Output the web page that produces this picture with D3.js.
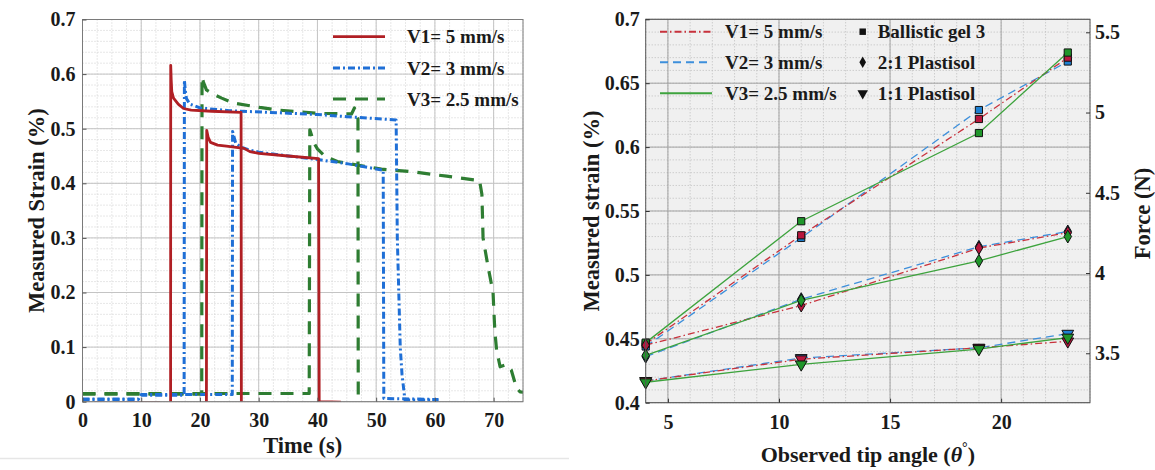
<!DOCTYPE html>
<html><head><meta charset="utf-8">
<script src="https://cdn.jsdelivr.net/npm/d3@7"></script>
<style>
body{margin:0;background:#fff}
text{font-family:"Liberation Serif","DejaVu Serif",serif;font-weight:bold;fill:#1a1a1a}
</style>
</head><body><svg id="c" width="1155" height="470"></svg>
<script>
// ---------- LEFT CHART DATA: time (s), measured strain (%) ----------
const leftXTicks = [0,10,20,30,40,50,60,70];
const leftYTicks = [0,0.1,0.2,0.3,0.4,0.5,0.6,0.7];
const leftYTickLabels = ["0","0.1","0.2","0.3","0.4","0.5","0.6","0.7"];
const leftLegend = ["V1= 5 mm/s","V2= 3 mm/s","V3= 2.5 mm/s"];

const v1Run1 = [[2,-0.002],[5,-0.003],[8,-0.002],[13.2,-0.002]];
const v1Run2 = [[15,0],[15.02,0.616],[15.1,0.59],[15.2,0.568],[15.5,0.556],[16.3,0.545],[17.2,0.537],[18.5,0.534],[22,0.532],[27,0.530],[27.05,0]];
const v1Run3 = [[21.1,0],[21.15,0.497],[21.4,0.484],[21.8,0.475],[23,0.470],[24.5,0.468],[27.5,0.464],[28.5,0.458],[30,0.455],[35,0.450],[40.2,0.445],[40.3,0],[44,-0.001]];

const v2Run1 = [[0,0.004],[9.5,0.004],[10,0.012],[17.3,0.012],[17.35,0.589],[17.5,0.57],[17.7,0.555],[18.3,0.545],[20,0.538],[25,0.533],[33.6,0.529],[40,0.526],[45,0.522],[53.4,0.516],[53.6,0.30],[54.1,0.10],[54.4,0.05],[54.9,0.003],[60.6,0.003]];
const v2Run2 = [[0,0.005],[9.5,0.005],[10,0.013],[25.5,0.013],[25.55,0.495],[25.8,0.485],[26.1,0.473],[27,0.466],[28.5,0.461],[30,0.457],[33.6,0.452],[40.4,0.443],[45,0.436],[51.2,0.424],[51.3,0.006],[60.6,0.004]];

const v3Run1 = [[0,0.014],[20.3,0.014],[20.35,0.595],[20.6,0.585],[21.1,0.571],[22.5,0.562],[23.7,0.556],[25.7,0.547],[30.2,0.539],[33.5,0.534],[40.4,0.528],[45.8,0.527],[46.3,0.538],[46.6,0.525],[46.9,0.518],[46.95,0]];
const v3Run2 = [[0,0.015],[38.6,0.015],[38.7,0.498],[39.0,0.488],[39.3,0.476],[40,0.463],[41.3,0.449],[43.4,0.440],[47,0.433],[50.9,0.426],[56.3,0.421],[62,0.413],[67.6,0.405],[68.0,0.38],[68.2,0.30],[69.0,0.25],[69.9,0.20],[70.2,0.13],[70.5,0.095],[71.1,0.064],[72.2,0.068],[73.0,0.058],[73.9,0.025],[74.5,0.018],[76,0.017]];

// ---------- RIGHT CHART DATA: tip angle (deg), measured strain (%) ----------
const angles = [4, 11, 19, 23];
const rightXTicks = [5,10,15,20];
const rightYTicks = [0.4,0.45,0.5,0.55,0.6,0.65,0.7];
const rightYTickLabels = ["0.4","0.45","0.5","0.55","0.6","0.65","0.7"];
const forceTicks = [3.5,4,4.5,5,5.5];
const forceTickLabels = ["3.5","4","4.5","5","5.5"];
const materials = ["Ballistic gel 3","2:1 Plastisol","1:1 Plastisol"];

const ballisticV1 = [0.446,0.531,0.622,0.670];
const ballisticV2 = [0.444,0.529,0.629,0.667];
const ballisticV3 = [0.447,0.542,0.611,0.674];
const plast21V1 = [0.445,0.476,0.521,0.533];
const plast21V2 = [0.436,0.481,0.522,0.534];
const plast21V3 = [0.437,0.480,0.511,0.530];
const plast11V1 = [0.417,0.434,0.443,0.448];
const plast11V2 = [0.417,0.435,0.443,0.454];
const plast11V3 = [0.416,0.430,0.442,0.451];

// ---------- DRAW ----------
const FF = '"Liberation Serif","DejaVu Serif",serif';
const svg = d3.select("#c");
svg.append("rect").attr("width",1155).attr("height",470).attr("fill","#fff");
const FONT = 20, TITLE = 22.5, LEG = 19;

svg.append("line").attr("x1",0).attr("x2",569).attr("y1",458.5).attr("y2",458.5).attr("stroke","#e6e6e6").attr("stroke-width",1.5);

// ===== LEFT =====
const L = {l:82.5,r:523,t:19.5,b:401.7};
const x1 = d3.scaleLinear([0,75],[L.l,L.r]);
const y1 = d3.scaleLinear([0,0.7],[L.b,L.t]);
const gL = svg.append("g");
gL.append("clipPath").attr("id","clipL").append("rect").attr("x",L.l).attr("y",L.t).attr("width",L.r-L.l).attr("height",L.b-L.t);

gL.selectAll(".mx").data(d3.range(0,75.01,2.5)).join("line")
  .attr("x1",d=>x1(d)).attr("x2",d=>x1(d)).attr("y1",L.t).attr("y2",L.b)
  .attr("stroke","#cfcfcf").attr("stroke-dasharray","1,2").attr("stroke-width",1);
gL.selectAll(".my").data(d3.range(0,0.7001,0.02)).join("line")
  .attr("y1",d=>y1(d)).attr("y2",d=>y1(d)).attr("x1",L.l).attr("x2",L.r)
  .attr("stroke","#cfcfcf").attr("stroke-dasharray","1,2").attr("stroke-width",1);
gL.selectAll(".Mx").data(leftXTicks).join("line")
  .attr("x1",d=>x1(d)).attr("x2",d=>x1(d)).attr("y1",L.t).attr("y2",L.b)
  .attr("stroke","#c4c4c4").attr("stroke-width",1);
gL.selectAll(".My").data(leftYTicks).join("line")
  .attr("y1",d=>y1(d)).attr("y2",d=>y1(d)).attr("x1",L.l).attr("x2",L.r)
  .attr("stroke","#c4c4c4").attr("stroke-width",1);

const lineL = d3.line().x(d=>x1(d[0])).y(d=>y1(d[1]));
const leftStyles = [
  {c:"#b01f24", w:2.8, dash:null},
  {c:"#1f6fd6", w:3, dash:"7,3,2,3"},
  {c:"#2e7d32", w:3.2, dash:"13,9"}
];
const leftRuns = [[v1Run1,0],[v1Run2,0],[v1Run3,0],[v2Run1,1],[v2Run2,1],[v3Run1,2],[v3Run2,2]];
const dataL = gL.append("g").attr("clip-path","url(#clipL)");
[2,1,0].forEach(si=>{
  leftRuns.filter(r=>r[1]===si).forEach(r=>{
    dataL.append("path").attr("d",lineL(r[0])).attr("fill","none")
      .attr("stroke",leftStyles[si].c).attr("stroke-width",leftStyles[si].w)
      .attr("stroke-dasharray",leftStyles[si].dash).attr("stroke-linejoin","round");
  });
});

gL.append("rect").attr("x",L.l).attr("y",L.t).attr("width",L.r-L.l).attr("height",L.b-L.t)
  .attr("fill","none").attr("stroke","#7a7a7a").attr("stroke-width",1);

const axL_b = gL.append("g").attr("transform",`translate(0,${L.b})`)
  .call(d3.axisBottom(x1).tickValues(leftXTicks).tickSize(-4).tickPadding(11));
const axL_l = gL.append("g").attr("transform",`translate(${L.l},0)`)
  .call(d3.axisLeft(y1).tickValues(leftYTicks).tickFormat((d,i)=>leftYTickLabels[i]).tickSize(-4).tickPadding(7));
[axL_b,axL_l].forEach(a=>{
  a.attr("font-family",FF);
  a.select(".domain").remove();
  a.selectAll("line").attr("stroke","#555");
  a.selectAll("text").attr("font-size",FONT).attr("fill","#1a1a1a").attr("font-family",FF).attr("font-weight","bold");
});
gL.append("text").attr("x",(L.l+L.r)/2).attr("y",453).attr("text-anchor","middle").attr("font-size",TITLE).attr("font-family",FF).text("Time (s)");
gL.append("text").attr("transform",`translate(44,${(L.t+L.b)/2}) rotate(-90)`).attr("text-anchor","middle").attr("font-size",TITLE).attr("font-family",FF).text("Measured Strain (%)");

const legLrows = [36.7,68,99];
leftLegend.forEach((t,i)=>{
  gL.append("line").attr("x1",333).attr("x2",385).attr("y1",legLrows[i]).attr("y2",legLrows[i])
    .attr("stroke",leftStyles[i].c).attr("stroke-width",leftStyles[i].w).attr("stroke-dasharray",leftStyles[i].dash);
  gL.append("text").attr("x",407).attr("y",legLrows[i]).attr("dy","0.35em").attr("font-size",LEG).attr("font-family",FF).text(t);
});

// ===== RIGHT =====
const R = {l:645.7,r:1090,t:19.3,b:402.7};
const x2 = d3.scaleLinear([4,24],[R.l,R.r]);
const y2 = d3.scaleLinear([0.4,0.7],[R.b,R.t]);
const yF = d3.scaleLinear([3.192,5.581],[R.b,R.t]);
const gR = svg.append("g");
gR.append("rect").attr("x",R.l).attr("y",R.t).attr("width",R.r-R.l).attr("height",R.b-R.t).attr("fill","#f0f0f0");
gR.selectAll(".mx").data(d3.range(4,24.01,1)).join("line")
  .attr("x1",d=>x2(d)).attr("x2",d=>x2(d)).attr("y1",R.t).attr("y2",R.b)
  .attr("stroke","#bdbdbd").attr("stroke-dasharray","1,2").attr("stroke-width",1);
gR.selectAll(".my").data(d3.range(0.4,0.7001,0.01)).join("line")
  .attr("y1",d=>y2(d)).attr("y2",d=>y2(d)).attr("x1",R.l).attr("x2",R.r)
  .attr("stroke","#bdbdbd").attr("stroke-dasharray","1,2").attr("stroke-width",1);
gR.selectAll(".Mx").data(rightXTicks).join("line")
  .attr("x1",d=>x2(d)).attr("x2",d=>x2(d)).attr("y1",R.t).attr("y2",R.b)
  .attr("stroke","#a3a3a3").attr("stroke-width",1);
gR.selectAll(".My").data(rightYTicks).join("line")
  .attr("y1",d=>y2(d)).attr("y2",d=>y2(d)).attr("x1",R.l).attr("x2",R.r)
  .attr("stroke","#a3a3a3").attr("stroke-width",1);

const rightStyles = [
  {c:"#c8323c", m:"#b8163d", dash:"7,3,1.5,3"},
  {c:"#3d8fdb", m:"#1e80d2", dash:"8,5"},
  {c:"#3da33d", m:"#1f962a", dash:null}
];
const lineR = d3.line().x((d,i)=>x2(angles[i])).y(d=>y2(d));
const groups = [
  {sym:d3.symbolSquare, size:52, rot:0, series:[ballisticV1,ballisticV2,ballisticV3]},
  {sym:d3.symbolDiamond, size:48, rot:0, series:[plast21V1,plast21V2,plast21V3]},
  {sym:d3.symbolTriangle, size:60, rot:180, series:[plast11V1,plast11V2,plast11V3]}
];
const order = [1,0,2];
groups.forEach(g=>{
  order.forEach(si=>{
    gR.append("path").attr("d",lineR(g.series[si])).attr("fill","none")
      .attr("stroke",rightStyles[si].c).attr("stroke-width",1.3).attr("stroke-dasharray",rightStyles[si].dash);
  });
});
groups.forEach(g=>{
  order.forEach(si=>{
    gR.selectAll(null).data(g.series[si]).join("path")
      .attr("d",d3.symbol(g.sym,g.size)())
      .attr("transform",(d,i)=>`translate(${x2(angles[i])},${y2(d)}) rotate(${g.rot})`)
      .attr("fill",rightStyles[si].m).attr("stroke","#111").attr("stroke-width",1);
  });
});

gR.append("rect").attr("x",R.l).attr("y",R.t).attr("width",R.r-R.l).attr("height",R.b-R.t)
  .attr("fill","none").attr("stroke","#555").attr("stroke-width",1);

const axR_b = gR.append("g").attr("transform",`translate(0,${R.b})`)
  .call(d3.axisBottom(x2).tickValues(rightXTicks).tickSize(-4).tickPadding(12));
const axR_l = gR.append("g").attr("transform",`translate(${R.l},0)`)
  .call(d3.axisLeft(y2).tickValues(rightYTicks).tickFormat((d,i)=>rightYTickLabels[i]).tickSize(-4).tickPadding(6));
const axR_r = gR.append("g").attr("transform",`translate(${R.r},0)`)
  .call(d3.axisRight(yF).tickValues(forceTicks).tickFormat((d,i)=>forceTickLabels[i]).tickSize(-4).tickPadding(5));
[axR_b,axR_l,axR_r].forEach(a=>{
  a.attr("font-family",FF);
  a.select(".domain").remove();
  a.selectAll("line").attr("stroke","#333");
  a.selectAll("text").attr("font-size",FONT).attr("fill","#1a1a1a").attr("font-family",FF).attr("font-weight","bold");
});

const xl = gR.append("text").attr("x",(R.l+R.r)/2).attr("y",462).attr("text-anchor","middle").attr("font-size",22).attr("font-family",FF);
xl.append("tspan").text("Observed tip angle (");
xl.append("tspan").attr("font-style","italic").text("θ");
xl.append("tspan").attr("font-size",14).attr("dy",-10).text("°");
xl.append("tspan").attr("dy",10).text(")");
gR.append("text").attr("transform",`translate(599,${(R.t+R.b)/2}) rotate(-90)`).attr("text-anchor","middle").attr("font-size",TITLE).attr("font-family",FF).text("Measured strain (%)");
gR.append("text").attr("transform",`translate(1150,213.5) rotate(-90)`).attr("text-anchor","middle").attr("font-size",TITLE).attr("font-family",FF).text("Force (N)");

const legRrows = [31.7,62.3,93.3];
["V1= 5 mm/s","V2= 3 mm/s","V3= 2.5 mm/s"].forEach((t,i)=>{
  gR.append("line").attr("x1",660).attr("x2",712).attr("y1",legRrows[i]).attr("y2",legRrows[i])
    .attr("stroke",rightStyles[i].c).attr("stroke-width",2).attr("stroke-dasharray",rightStyles[i].dash);
  gR.append("text").attr("x",725).attr("y",legRrows[i]).attr("dy","0.35em").attr("font-size",LEG).attr("font-family",FF).text(t);
});
materials.forEach((t,i)=>{
  const g = groups[i];
  gR.append("path").attr("d",d3.symbol(g.sym,g.size*0.8)()).attr("transform",`translate(862.7,${legRrows[i]}) rotate(${g.rot})`).attr("fill","#111");
  gR.append("text").attr("x",877.7).attr("y",legRrows[i]).attr("dy","0.35em").attr("font-size",LEG).attr("font-family",FF).text(t);
});
</script></body></html>
